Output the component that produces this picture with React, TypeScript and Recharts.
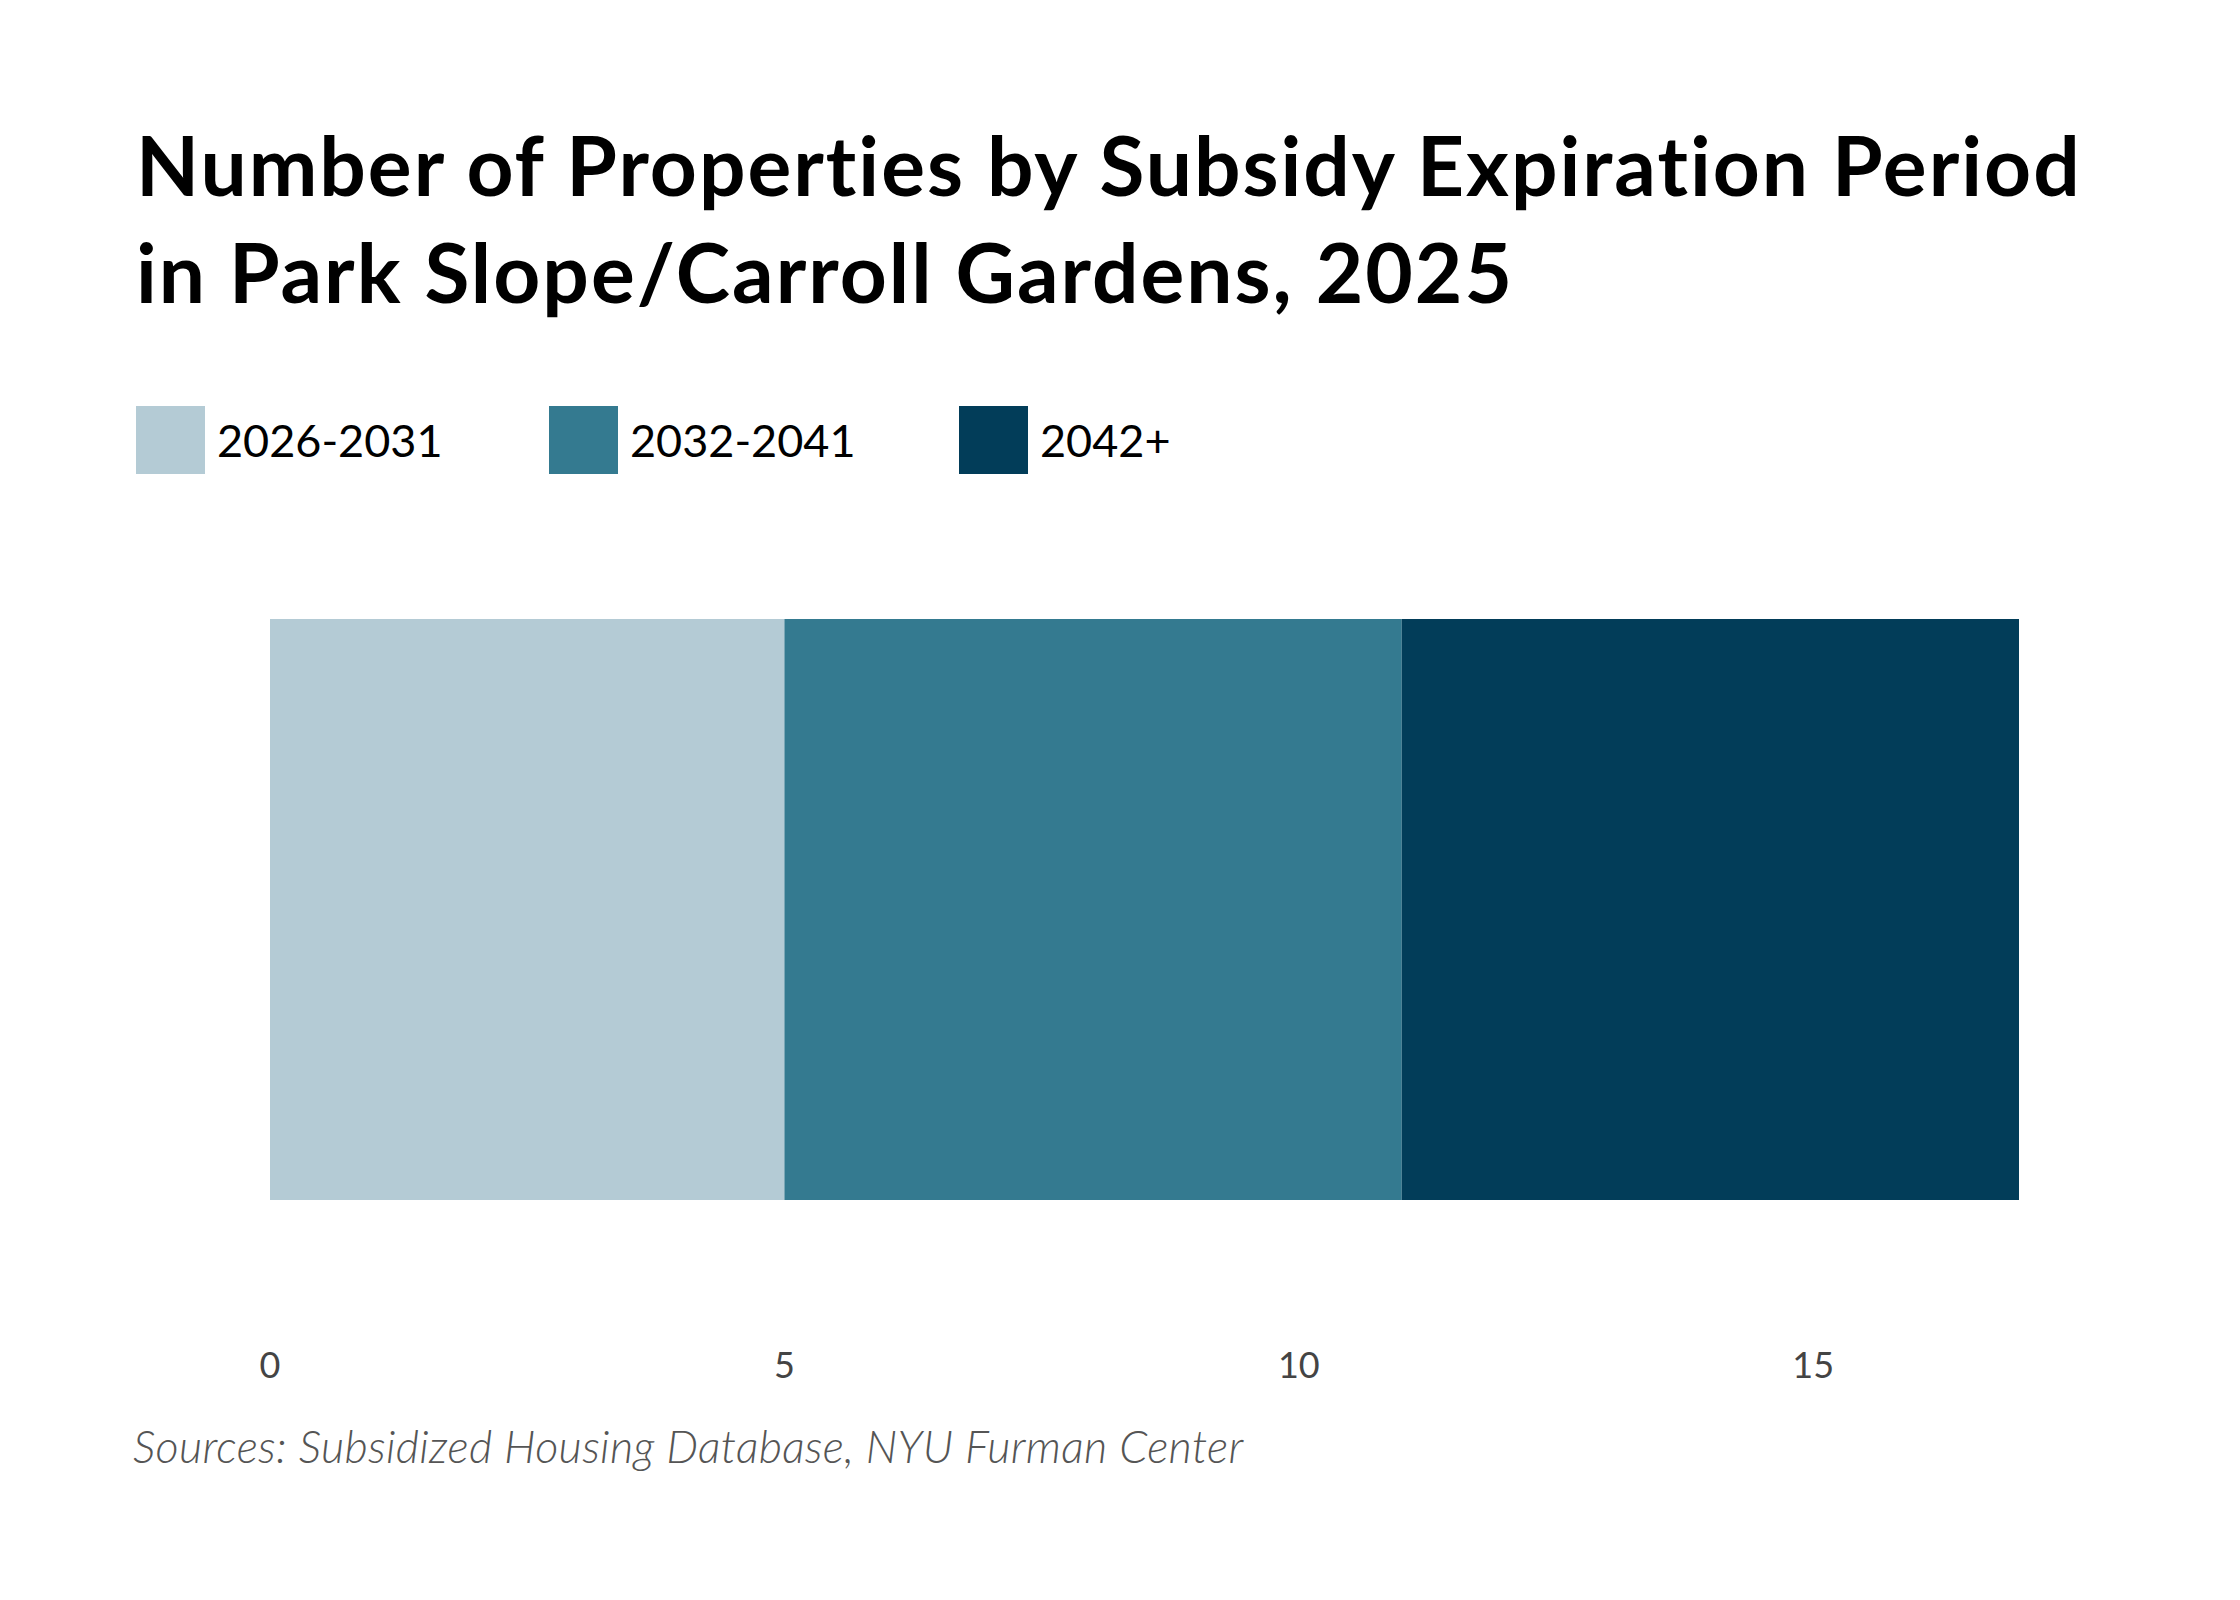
import { BarChart, Bar, XAxis, YAxis } from "recharts";

const categories = ["Park Slope/Carroll Gardens"];
const seriesNames = ["2026-2031", "2032-2041", "2042+"];
const seriesValues = [5, 6, 6];
const seriesColors = ["#b4cbd5", "#347a90", "#023d59"];
const xTicks = [0, 5, 10, 15];

const data = categories.map((name) => {
  const row: Record<string, string | number> = { name };
  seriesNames.forEach((s, i) => {
    row[s] = seriesValues[i];
  });
  return row;
});

const font = "Lato, 'Noto Sans', sans-serif";
const legendOffsets = [0, 413, 823];

export default function App() {
  return (
    <div
      style={{
        position: "absolute",
        left: 0,
        top: 0,
        width: 2240,
        height: 1600,
        background: "#fff",
        fontFamily: font,
        overflow: "hidden",
      }}
    >
      <div
        style={{
          position: "absolute",
          left: 136,
          top: 111,
          fontSize: 82,
          fontWeight: 700,
          letterSpacing: 2,
          lineHeight: "107px",
          color: "#000",
          whiteSpace: "nowrap",
        }}
      >
        <div>Number of Properties by Subsidy Expiration Period</div>
        <div>in Park Slope/Carroll Gardens, 2025</div>
      </div>

      <div style={{ position: "absolute", left: 136, top: 406, height: 68 }}>
        {seriesNames.map((s, i) => (
          <div
            key={s}
            style={{
              position: "absolute",
              left: legendOffsets[i],
              top: 0,
              display: "flex",
              alignItems: "center",
              whiteSpace: "nowrap",
            }}
          >
            <div style={{ width: 69, height: 68, background: seriesColors[i] }} />
            <span style={{ marginLeft: 12, fontSize: 45, color: "#000" }}>{s}</span>
          </div>
        ))}
      </div>

      <div style={{ position: "absolute", left: 0, top: 0 }}>
        <BarChart
          width={2240}
          height={1600}
          layout="vertical"
          data={data}
          barCategoryGap={0}
          margin={{ top: 619, right: 221, bottom: 200, left: 270 }}
        >
          <XAxis
            type="number"
            domain={[0, 17]}
            ticks={xTicks}
            axisLine={false}
            tickLine={false}
            tickSize={0}
            tickMargin={152}
            height={200}
            tick={{ fontSize: 36, fill: "#444", fontFamily: font }}
          />
          <YAxis type="category" dataKey="name" hide width={0} />
          {seriesNames.map((s, i) => (
            <Bar
              key={s}
              dataKey={s}
              stackId="a"
              fill={seriesColors[i]}
              isAnimationActive={false}
            />
          ))}
        </BarChart>
      </div>

      <div
        style={{
          position: "absolute",
          left: 133,
          top: 1419,
          fontSize: 45,
          fontStyle: "italic",
          fontWeight: 300,
          letterSpacing: 0.3,
          color: "#555",
          whiteSpace: "nowrap",
        }}
      >
        Sources: Subsidized Housing Database, NYU Furman Center
      </div>
    </div>
  );
}
